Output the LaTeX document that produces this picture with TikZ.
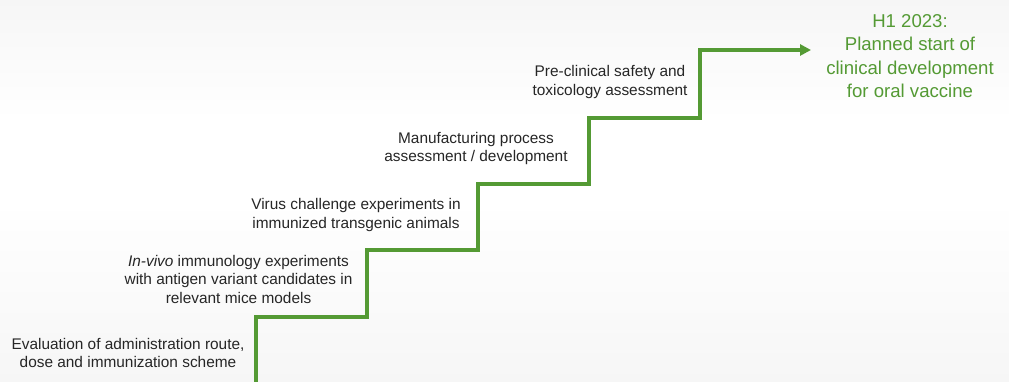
\documentclass[tikz,border=0pt]{standalone}
\usepackage{fontspec}
\setmainfont{Liberation Sans}
\usepackage{tikz}
\usetikzlibrary{arrows.meta,positioning}
\definecolor{stairgreen}{RGB}{84,154,52}
\definecolor{steptext}{RGB}{38,38,38}

\begin{document}
\begin{tikzpicture}[x=1pt, y=-1pt, line join=miter]
   \useasboundingbox (0,0) rectangle (1009,382);
   \fill[white] (0,0) rectangle (1009,382);
   \shade[top color=gray!7, bottom color=white] (0,0) rectangle (1009,120);
   \shade[top color=white, bottom color=gray!7] (0,200) rectangle (1009,382);
   % stair corners
   \coordinate (s0) at (256,382);
   \coordinate (s1) at (367,317);
   \coordinate (s2) at (478,250);
   \coordinate (s3) at (589,184);
   \coordinate (s4) at (700,118);
   \coordinate (s5) at (811,50);
   \begin{scope}[every node/.style={align=center, text=steptext, inner sep=0pt, font=\fontsize{15.4}{18.5}\selectfont}]
    \node (eval) at (128,353) {Evaluation of administration route,\\dose and immunization scheme};
    \node (invivo) at (238.5,279) {\textit{In-vivo} immunology experiments\\with antigen variant candidates in\\relevant mice models};
    \node (virus) at (356,215) {Virus challenge experiments in\\immunized transgenic animals};
    \node (manuf) at (476,148.5) {Manufacturing process\\assessment / development};
    \node (preclin) at (610,82) {Pre-clinical safety and\\toxicology assessment};
   \end{scope}
   \node (goal) [align=center, text=stairgreen, inner sep=0pt, font=\fontsize{18.6}{23.3}\selectfont] at (910,56) {H1 2023:\\Planned start of\\clinical development\\for oral vaccine};
   \draw[stairgreen, line width=4pt, -{Triangle[length=11pt,width=11pt]}]
     (s0) |- (s1) |- (s2) |- (s3) |- (s4) |- (s5);
\end{tikzpicture}
\end{document}
